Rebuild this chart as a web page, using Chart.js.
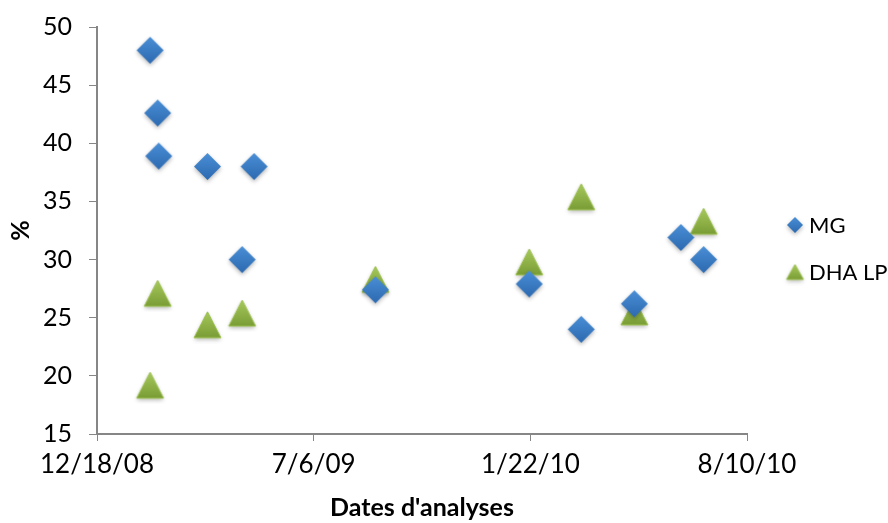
<!DOCTYPE html>
<html>
<head>
<meta charset="utf-8">
<script src="https://cdn.jsdelivr.net/npm/chart.js@4"></script>
<style>
  html, body { margin: 0; padding: 0; background: #fff; }
  #wrap { width: 888px; height: 523px; position: relative; }
</style>
</head>
<body>
<div id="wrap"><canvas id="chart"></canvas></div>
<script>
// Dates are Excel serial days (39800 = 12/18/08)
const mgDates   = [39849, 39856, 39857, 39902, 39945, 39934, 40057, 40199, 40247, 40296, 40339, 40360];
const mgValues  = [48.0, 42.6, 38.9, 38.0, 38.0, 30.0, 27.4, 27.9, 24.0, 26.2, 31.9, 30.0];
const dhaDates  = [39849, 39856, 39902, 39934, 40057, 40199, 40247, 40296, 40360];
const dhaValues = [19.2, 27.1, 24.4, 25.4, 28.3, 29.8, 35.4, 25.5, 33.3];
const xTicks    = [39800, 40000, 40200, 40400];
const yTicks    = [15, 20, 25, 30, 35, 40, 45, 50];

const FONT = 'Lato, "Open Sans", sans-serif';
const AXIS_GREY = '#868686';

function serialToLabel(v) {
  const d = new Date(Date.UTC(1899, 11, 30) + v * 86400000);
  return `${d.getUTCMonth() + 1}/${d.getUTCDate()}/${String(d.getUTCFullYear()).slice(2)}`;
}

// marker sprites (diamond + triangle with soft shading)
function makeDiamond(half) {
  const pad = 6, s = half * 2 + pad * 2;
  const c = document.createElement('canvas');
  c.width = s; c.height = s;
  const ctx = c.getContext('2d');
  const cx = s / 2, cy = s / 2;
  ctx.shadowColor = 'rgba(0,0,0,.28)';
  ctx.shadowBlur = 4;
  ctx.shadowOffsetY = 2;
  const g = ctx.createLinearGradient(0, cy - half, 0, cy + half);
  g.addColorStop(0, '#4a8fd6');
  g.addColorStop(1, '#2c69b0');
  ctx.fillStyle = g;
  ctx.beginPath();
  ctx.moveTo(cx, cy - half);
  ctx.lineTo(cx + half, cy);
  ctx.lineTo(cx, cy + half);
  ctx.lineTo(cx - half, cy);
  ctx.closePath();
  ctx.fill();
  return c;
}

function makeTriangle(w, h) {
  const pad = 6, cw = Math.ceil(w + pad * 2), ch = Math.ceil(h + pad * 2);
  const c = document.createElement('canvas');
  c.width = cw; c.height = ch;
  const ctx = c.getContext('2d');
  const cx = cw / 2, top = ch / 2 - h / 2, bot = ch / 2 + h / 2;
  ctx.shadowColor = 'rgba(0,0,0,.28)';
  ctx.shadowBlur = 4;
  ctx.shadowOffsetY = 2;
  const g = ctx.createLinearGradient(0, top, 0, bot);
  g.addColorStop(0, '#a6c95c');
  g.addColorStop(1, '#7a9c35');
  ctx.fillStyle = g;
  ctx.beginPath();
  ctx.moveTo(cx, top);
  ctx.lineTo(cx + w / 2, bot);
  ctx.lineTo(cx - w / 2, bot);
  ctx.closePath();
  ctx.fill();
  ctx.shadowColor = 'transparent';
  ctx.strokeStyle = '#9cc04f';
  ctx.lineWidth = 1;
  ctx.stroke();
  return c;
}

const diamondImg  = makeDiamond(13.5);
const triangleImg = makeTriangle(27, 26);

const legendPlugin = {
  id: 'sideLegend',
  afterDraw(chart) {
    const ctx = chart.ctx;
    ctx.save();
    ctx.fillStyle = '#000';
    ctx.font = `22px ${FONT}`;
    ctx.textBaseline = 'middle';
    const items = [
      { label: 'MG', y: 225, img: makeDiamond(8) },
      { label: 'DHA LP', y: 272, img: makeTriangle(17, 15) },
    ];
    items.forEach(it => {
      ctx.drawImage(it.img, 795 - it.img.width / 2, it.y - it.img.height / 2);
      ctx.fillText(it.label, 809, it.y + 1);
    });
    ctx.restore();
  },
};

new Chart(document.getElementById('chart'), {
  type: 'scatter',
  data: {
    datasets: [
      {
        label: 'MG',
        data: mgDates.map((x, i) => ({ x, y: mgValues[i] })),
        pointStyle: diamondImg,
        pointRadius: 13,
      },
      {
        label: 'DHA LP',
        data: dhaDates.map((x, i) => ({ x, y: dhaValues[i] })),
        pointStyle: triangleImg,
        pointRadius: 13,
      },
    ],
  },
  options: {
    responsive: true,
    maintainAspectRatio: false,
    animation: false,
    layout: { padding: { left: 0, right: 141, top: 27, bottom: 0 } },
    plugins: {
      legend: { display: false },
      tooltip: { enabled: false },
    },
    scales: {
      x: {
        type: 'linear',
        min: 39800,
        max: 40400,
        afterBuildTicks: s => { s.ticks = xTicks.map(v => ({ value: v })); },
        afterFit: s => { s.height = 89; },
        border: { color: AXIS_GREY, width: 2 },
        grid: { drawOnChartArea: false, color: AXIS_GREY, tickLength: 7, lineWidth: 1 },
        ticks: {
          color: '#000',
          font: { family: FONT, size: 26 },
          padding: 8,
          maxRotation: 0,
          callback: v => serialToLabel(v),
        },
        title: {
          display: true,
          text: "Dates d'analyses",
          color: '#000',
          font: { family: FONT, size: 25, weight: 'bold' },
          padding: { top: 8, bottom: 0 },
        },
      },
      y: {
        min: 15,
        max: 50,
        afterBuildTicks: s => { s.ticks = yTicks.map(v => ({ value: v })); },
        afterFit: s => {
          s.width = 97;
          // tick padding also pads top/bottom; keep the plot top at 27px
          s.paddingTop = 10;
          s.paddingBottom = 10;
        },
        border: { color: AXIS_GREY, width: 2 },
        grid: { drawOnChartArea: false, color: AXIS_GREY, tickLength: 8, lineWidth: 1 },
        ticks: {
          color: '#000',
          font: { family: FONT, size: 25 },
          padding: 17,
          crossAlign: 'near',
        },
        title: {
          display: true,
          text: '%',
          color: '#000',
          font: { family: FONT, size: 25, weight: 'bold' },
          padding: { top: 6, bottom: 0 },
        },
      },
    },
  },
  plugins: [legendPlugin],
});
</script>
</body>
</html>
